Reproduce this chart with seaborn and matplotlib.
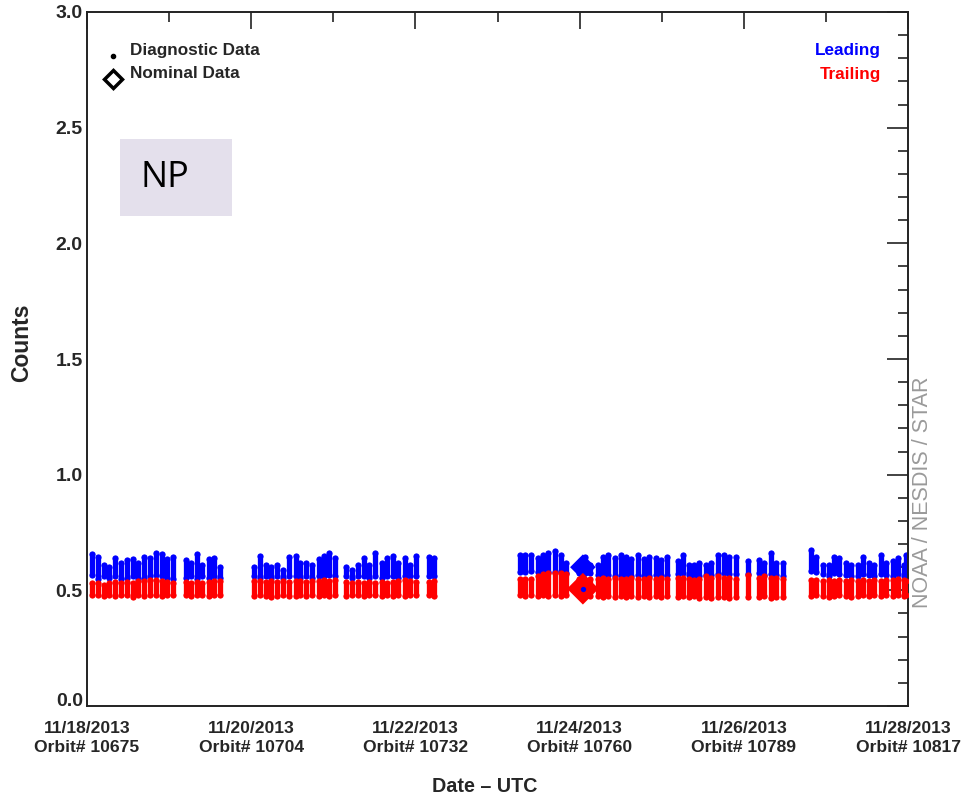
import matplotlib
matplotlib.use("Agg")
import matplotlib.pyplot as plt
import matplotlib.transforms as mtransforms
import seaborn as sns
import numpy as np
import pandas as pd
from matplotlib.patches import Rectangle
from matplotlib.ticker import MultipleLocator, FixedLocator

# ---------------- data ----------------
# orbit column times, in days after 11/18/2013 00:00 UTC
days = [0.06, 0.13, 0.21, 0.27, 0.34, 0.41, 0.49, 0.56, 0.62, 0.70, 0.77, 0.84, 0.91, 0.98, 1.05,
        1.20, 1.27, 1.34, 1.40, 1.48, 1.55, 1.62,
        2.04, 2.11, 2.18, 2.24, 2.32, 2.39, 2.46, 2.54, 2.60, 2.67, 2.74, 2.82, 2.89, 2.95, 3.02,
        3.16, 3.23, 3.30, 3.38, 3.44, 3.51, 3.59, 3.66, 3.73, 3.79, 3.87, 3.94, 4.01,
        4.16, 4.23,
        5.27, 5.34, 5.41, 5.49, 5.55, 5.62, 5.70, 5.77, 5.84,
        5.99, 6.06, 6.13,
        6.22, 6.28, 6.35, 6.43, 6.50, 6.57, 6.63, 6.71, 6.78, 6.85, 6.93, 6.99, 7.06,
        7.20, 7.26, 7.33, 7.39, 7.45, 7.54, 7.60, 7.68, 7.76, 7.82, 7.90,
        8.05,
        8.18, 8.24, 8.33, 8.39, 8.48,
        8.82, 8.88, 8.96, 9.04, 9.10, 9.16, 9.24, 9.30, 9.39, 9.45, 9.52, 9.59, 9.67, 9.73, 9.82,
        9.88, 9.95, 9.98]

leading_high = [0.657, 0.646, 0.610, 0.600, 0.640, 0.620, 0.630, 0.635, 0.620, 0.646, 0.640, 0.660, 0.655, 0.635, 0.646,
                0.630, 0.620, 0.655, 0.610, 0.635, 0.640, 0.600,
                0.603, 0.650, 0.610, 0.603, 0.610, 0.590, 0.646, 0.650, 0.620, 0.620, 0.610, 0.635, 0.650, 0.660, 0.640,
                0.600, 0.590, 0.610, 0.640, 0.610, 0.660, 0.620, 0.640, 0.650, 0.620, 0.640, 0.610, 0.650,
                0.646, 0.640,
                0.654, 0.654, 0.654, 0.640, 0.654, 0.660, 0.668, 0.654, 0.620,
                0.615, 0.645, 0.610,
                0.611, 0.646, 0.654, 0.640, 0.654, 0.646, 0.635, 0.654, 0.635, 0.646, 0.640, 0.632, 0.646,
                0.625, 0.653, 0.610, 0.610, 0.620, 0.610, 0.620, 0.653, 0.653, 0.646, 0.646,
                0.625,
                0.632, 0.620, 0.660, 0.620, 0.620,
                0.675, 0.646, 0.610, 0.610, 0.646, 0.640, 0.620, 0.610, 0.610, 0.646, 0.620, 0.610, 0.654,
                0.620, 0.625, 0.640, 0.610, 0.654]

leading_low = [0.565, 0.550, 0.560, 0.555, 0.560, 0.550, 0.555, 0.560, 0.550, 0.555, 0.560, 0.565, 0.560, 0.555, 0.550,
               0.555, 0.560, 0.550, 0.560, 0.555, 0.560, 0.555,
               0.560, 0.555, 0.560, 0.555, 0.560, 0.555, 0.560, 0.560, 0.555, 0.560, 0.555, 0.560, 0.560, 0.565, 0.560,
               0.560, 0.555, 0.560, 0.560, 0.555, 0.560, 0.555, 0.560, 0.560, 0.555, 0.560, 0.560, 0.560,
               0.560, 0.560,
               0.580, 0.580, 0.585, 0.580, 0.585, 0.580, 0.580, 0.585, 0.575,
               0.575, 0.575, 0.575,
               0.565, 0.570, 0.565, 0.560, 0.565, 0.560, 0.560, 0.565, 0.560, 0.560, 0.565, 0.560, 0.565,
               0.570, 0.575, 0.565, 0.560, 0.560, 0.565, 0.565, 0.570, 0.575, 0.570, 0.570,
               0.570,
               0.575, 0.565, 0.570, 0.565, 0.560,
               0.585, 0.580, 0.570, 0.560, 0.575, 0.570, 0.565, 0.560, 0.560, 0.570, 0.565, 0.560, 0.570,
               0.565, 0.560, 0.570, 0.560, 0.560]

trailing_high = [0.530, 0.530, 0.525, 0.530, 0.535, 0.530, 0.535, 0.530, 0.540, 0.540, 0.545, 0.545, 0.540, 0.535, 0.530,
                 0.535, 0.530, 0.535, 0.530, 0.535, 0.540, 0.540,
                 0.540, 0.540, 0.535, 0.540, 0.535, 0.540, 0.535, 0.540, 0.540, 0.535, 0.540, 0.540, 0.545, 0.540, 0.545,
                 0.535, 0.530, 0.535, 0.530, 0.535, 0.530, 0.535, 0.530, 0.535, 0.540, 0.545, 0.540, 0.535,
                 0.535, 0.540,
                 0.550, 0.550, 0.550, 0.560, 0.570, 0.575, 0.575, 0.575, 0.570,
                 0.550, 0.545, 0.550,
                 0.550, 0.555, 0.550, 0.555, 0.550, 0.550, 0.555, 0.550, 0.550, 0.555, 0.550, 0.555, 0.550,
                 0.555, 0.555, 0.550, 0.545, 0.550, 0.560, 0.555, 0.560, 0.555, 0.555, 0.550,
                 0.565,
                 0.555, 0.560, 0.555, 0.555, 0.550,
                 0.545, 0.545, 0.540, 0.545, 0.540, 0.545, 0.540, 0.545, 0.540, 0.545, 0.540, 0.545, 0.540,
                 0.545, 0.545, 0.550, 0.545, 0.540]

trailing_low = [0.480, 0.480, 0.475, 0.480, 0.475, 0.480, 0.480, 0.470, 0.480, 0.475, 0.480, 0.480, 0.475, 0.480, 0.480,
                0.480, 0.475, 0.480, 0.480, 0.475, 0.480, 0.480,
                0.475, 0.480, 0.475, 0.470, 0.475, 0.480, 0.475, 0.475, 0.480, 0.475, 0.480, 0.475, 0.480, 0.475, 0.480,
                0.475, 0.480, 0.480, 0.475, 0.480, 0.480, 0.475, 0.480, 0.475, 0.480, 0.475, 0.480, 0.480,
                0.480, 0.475,
                0.480, 0.475, 0.480, 0.475, 0.480, 0.475, 0.480, 0.475, 0.480,
                0.480, 0.480, 0.475,
                0.475, 0.470, 0.475, 0.470, 0.475, 0.470, 0.475, 0.470, 0.475, 0.470, 0.475, 0.470, 0.475,
                0.470, 0.475, 0.470, 0.475, 0.465, 0.470, 0.465, 0.470, 0.470, 0.465, 0.470,
                0.470,
                0.470, 0.475, 0.465, 0.470, 0.470,
                0.475, 0.480, 0.475, 0.470, 0.475, 0.480, 0.475, 0.470, 0.475, 0.480, 0.475, 0.480, 0.475,
                0.480, 0.475, 0.480, 0.475, 0.480]

# nominal-data diamonds (11/24 orbit)
nominal_day = [6.04, 6.04]
nominal_val = [0.600, 0.507]
nominal_series = ["Leading", "Trailing"]

tick_days = [0, 2, 4, 6, 8, 10]
tick_labels = ["11/18/2013\nOrbit# 10675", "11/20/2013\nOrbit# 10704", "11/22/2013\nOrbit# 10732",
               "11/24/2013\nOrbit# 10760", "11/26/2013\nOrbit# 10789", "11/28/2013\nOrbit# 10817"]

BLUE = "#0000ff"
RED = "#ff0000"

# ---------------- figure ----------------
sns.set_style("white")
plt.rcParams["font.family"] = ["Liberation Sans", "DejaVu Sans"]
plt.rcParams["font.weight"] = "bold"

fig = plt.figure(figsize=(9.68, 7.98), dpi=100)
ax = fig.add_axes([87 / 968, 1 - 706 / 798, (908 - 87) / 968, (706 - 12) / 798])

df = pd.DataFrame({"day": days, "lead_hi": leading_high, "lead_lo": leading_low,
                   "trail_hi": trailing_high, "trail_lo": trailing_low})

# diagnostic data: each orbit shows as a vertical run of dots
ax.vlines(df["day"], df["lead_lo"], df["lead_hi"], color=BLUE, lw=3.8, capstyle="round", zorder=2)
ends_lead = pd.concat([df[["day", "lead_lo"]].rename(columns={"lead_lo": "v"}),
                       df[["day", "lead_hi"]].rename(columns={"lead_hi": "v"})])
sns.scatterplot(data=ends_lead, x="day", y="v", color=BLUE, s=20, linewidth=0, ax=ax, zorder=2)

ax.vlines(df["day"], df["trail_lo"], df["trail_hi"], color=RED, lw=3.8, capstyle="round", zorder=3)
ends_trail = pd.concat([df[["day", "trail_lo"]].rename(columns={"trail_lo": "v"}),
                        df[["day", "trail_hi"]].rename(columns={"trail_hi": "v"})])
sns.scatterplot(data=ends_trail, x="day", y="v", color=RED, s=20, linewidth=0, ax=ax, zorder=3)

# nominal data
nom = pd.DataFrame({"day": nominal_day, "v": nominal_val, "series": nominal_series,
                    "size": [170, 260]})
sns.scatterplot(data=nom, x="day", y="v", hue="series", palette={"Leading": BLUE, "Trailing": RED},
                size="size", sizes=(170, 260), marker="D", linewidth=0, ax=ax, legend=False, zorder=4)
ax.scatter(nominal_day[1:], nominal_val[1:], s=8, color=BLUE, zorder=5)

ax.set_xlim(0, 10)
ax.set_ylim(0, 3.0)
ax.xaxis.set_major_locator(FixedLocator(tick_days))
ax.xaxis.set_minor_locator(MultipleLocator(1))
ax.set_xticklabels(tick_labels, fontsize=12.6, fontweight="bold", linespacing=1.3)
ax.yaxis.set_major_locator(MultipleLocator(0.5))
ax.yaxis.set_minor_locator(MultipleLocator(0.1))
ax.set_yticks([0, 0.5, 1.0, 1.5, 2.0, 2.5, 3.0])
ax.set_yticklabels(["0.0", "0.5", "1.0", "1.5", "2.0", "2.5", "3.0"], fontsize=14, fontweight="bold")
ax.tick_params(axis="both", which="both", direction="in", top=True, right=True, color="#222222", width=1.2)
ax.tick_params(axis="x", which="major", length=12, pad=11)
ax.tick_params(axis="x", which="minor", length=7)
ax.tick_params(axis="y", which="major", length=15, pad=3)
ax.tick_params(axis="y", which="minor", length=7)
for sp in ax.spines.values():
    sp.set_color("#222222")
    sp.set_linewidth(1.4)
ax.set_xlabel("")
ax.set_ylabel("")

# lift the bottom y label ("0.0") a little, as in the reference
lab0 = ax.get_yticklabels()[0]
lab0.set_transform(lab0.get_transform() + mtransforms.ScaledTranslation(0, 6 / 100, fig.dpi_scale_trans))

# axis titles
fig.text(22 / 968, 1 - 343 / 798, "Counts", rotation=90, ha="center", va="center",
         fontsize=16.5, fontweight="bold")
fig.text(485 / 968, 1 - 786 / 798, "Date \u2013 UTC", ha="center", va="center",
         fontsize=14.2, fontweight="bold")

# legend (top-left)
ax.plot([0.315], [2.81], marker="o", ms=3, color="black", clip_on=False)
ax.plot([0.315], [2.71], marker="D", ms=9, mfc="white", mec="black", mew=2.5, clip_on=False)
fig.text(130 / 968, 1 - 50 / 798, "Diagnostic Data", ha="left", va="center", fontsize=12.3, fontweight="bold")
fig.text(130 / 968, 1 - 74 / 798, "Nominal Data", ha="left", va="center", fontsize=12.3, fontweight="bold")

# series key (top-right)
fig.text(881 / 968, 1 - 50 / 798, "Leading", ha="right", va="center", fontsize=12.3, fontweight="bold", color=BLUE)
fig.text(881 / 968, 1 - 74 / 798, "Trailing", ha="right", va="center", fontsize=12.3, fontweight="bold", color=RED)

# NP box
fig.patches.append(Rectangle((120 / 968, 1 - 216 / 798), 112 / 968, 77 / 798, transform=fig.transFigure,
                             facecolor="#e4e0ec", edgecolor="none", zorder=5))
fig.text(141 / 968, 1 - 178 / 798, "NP", ha="left", va="center", fontsize=26, fontweight="normal",
         family=["Open Sans", "DejaVu Sans"], color="black", zorder=6)

# watermark
fig.text(922 / 968, 1 - 492 / 798, "NOAA / NESDIS / STAR", rotation=90, ha="center", va="center",
         fontsize=15.5, fontweight="normal", color="#9a9a9a")

fig.savefig("out.png", dpi=100)
